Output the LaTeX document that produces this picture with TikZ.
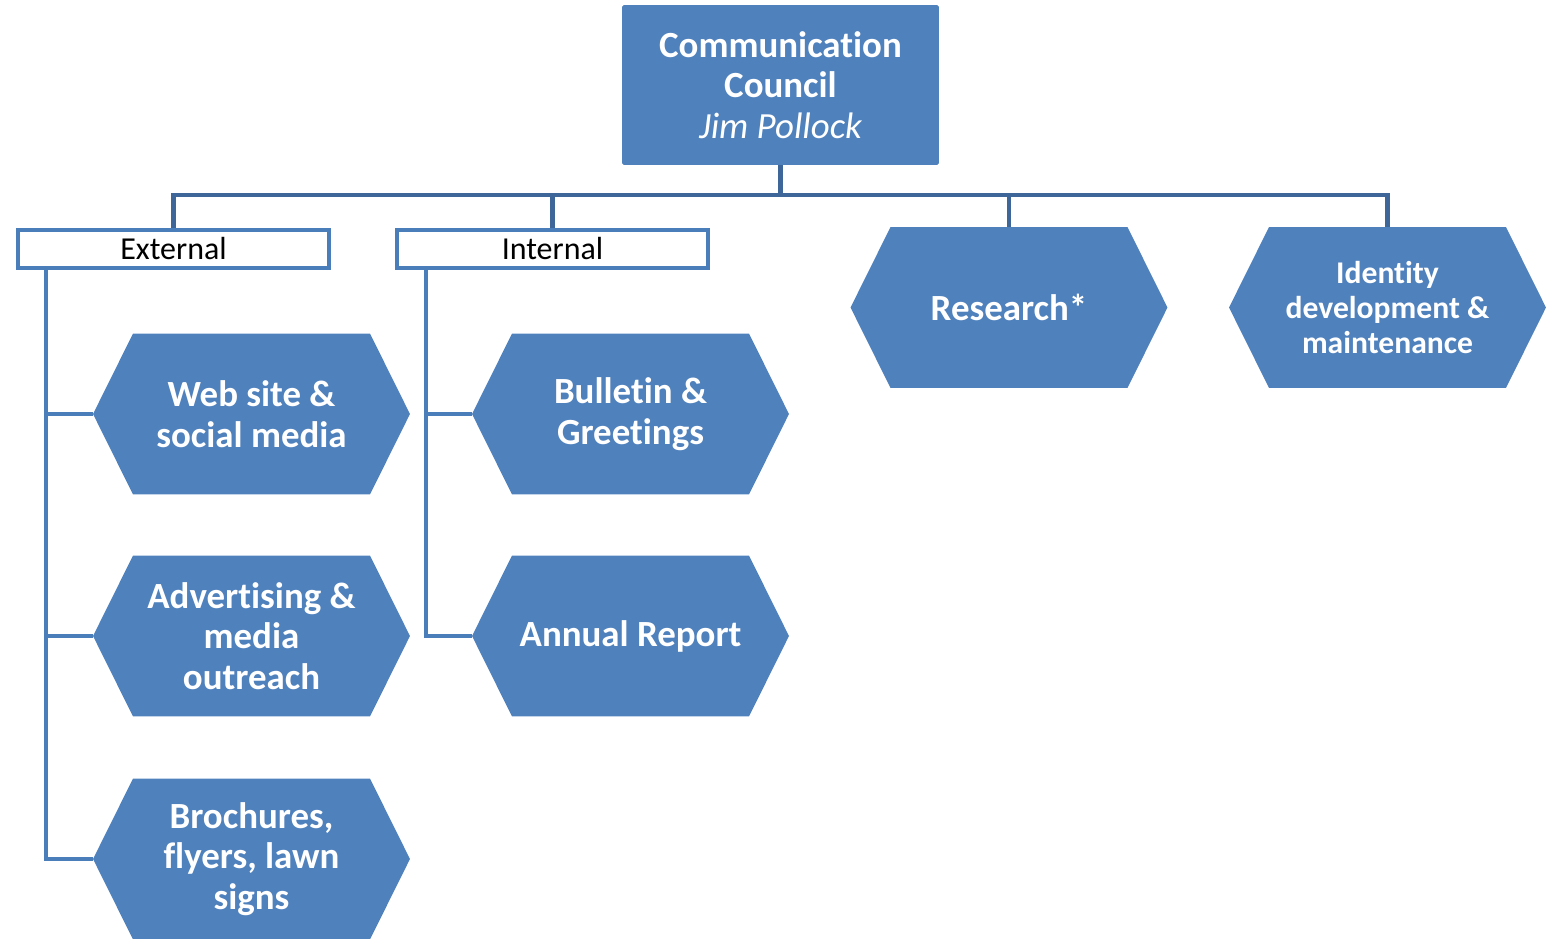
\documentclass[tikz,border=0pt]{standalone}
\usepackage{fontspec}
\setmainfont[Ligatures=NoCommon]{Carlito}
\definecolor{councilblue}{HTML}{4F81BD}
\definecolor{busblue}{HTML}{3F6698}
\definecolor{branchblue}{HTML}{4A7EBB}
\tikzset{
  hexbox/.style={minimum width=6.34cm,minimum height=3.22cm,inner sep=0pt,text=white,align=center,
    font=\bfseries\fontsize{21}{23.2}\selectfont,
    path picture={\fill[councilblue] ([xshift=0.8cm]path picture bounding box.north west)
      -- ([xshift=-0.8cm]path picture bounding box.north east) -- (path picture bounding box.east)
      -- ([xshift=-0.8cm]path picture bounding box.south east) -- ([xshift=0.8cm]path picture bounding box.south west)
      -- (path picture bounding box.west) -- cycle;}},
  smallhex/.style={hexbox,font=\bfseries\fontsize{18}{20.1}\selectfont},
  groupbox/.style={draw=branchblue,line width=2.5pt,fill=white,minimum width=6.22cm,minimum height=0.76cm,
    inner sep=0pt,font=\fontsize{18.2}{20}\selectfont},
  headbox/.style={fill=councilblue,rounded corners=1pt,minimum width=6.34cm,minimum height=3.2cm,inner sep=0pt,
    text=white,align=center,font=\bfseries\fontsize{21}{23.2}\selectfont},
  bus/.style={busblue,line width=2.6pt},
  branch/.style={branchblue,line width=2.6pt}
}
\begin{document}
\begin{tikzpicture}[x=0.02cm,y=-0.02cm]
  \useasboundingbox (0,0) rectangle (1546,938);
  % top of the chart
  \node[headbox] (council) at (780.5,85) {Communication\\Council\\{\mdseries\itshape Jim Pollock}};
  \node[groupbox] (external) at (173.5,249) {External};
  \node[groupbox] (internal) at (552.5,249) {Internal};
  \node[hexbox] (research) at (1009,307.5) {Research*};
  \node[smallhex] (identity) at (1387.5,307.5) {Identity\\development \&\\maintenance};
  % external column
  \node[hexbox] (websocial) at (251.5,414) {Web site \&\\social media};
  \node[hexbox] (advertising) at (251.5,636) {Advertising \&\\media\\outreach};
  \node[hexbox] (brochures) at (251.5,859) {Brochures,\\flyers, lawn\\signs};
  % internal column
  \node[hexbox] (bulletin) at (630.5,414) {Bulletin \&\\Greetings};
  \node[hexbox] (annual) at (630.5,636) {Annual Report};
  % connectors
  \coordinate (bus) at (780.5,195);
  \draw[bus] (council.south) -- (bus);
  \draw[bus] (external.north) |- (bus) -| (identity.north);
  \draw[bus] (internal.north) -- (internal.north |- bus);
  \draw[bus] (research.north) -- (research.north |- bus);
  \coordinate (extspine) at ([xshift=0.6cm]external.south west);
  \coordinate (intspine) at ([xshift=0.62cm]internal.south west);
  \draw[branch] (extspine) |- (brochures.west);
  \draw[branch] (websocial.west -| extspine) -- (websocial.west);
  \draw[branch] (advertising.west -| extspine) -- (advertising.west);
  \draw[branch] (intspine) |- (annual.west);
  \draw[branch] (bulletin.west -| intspine) -- (bulletin.west);
\end{tikzpicture}
\end{document}
